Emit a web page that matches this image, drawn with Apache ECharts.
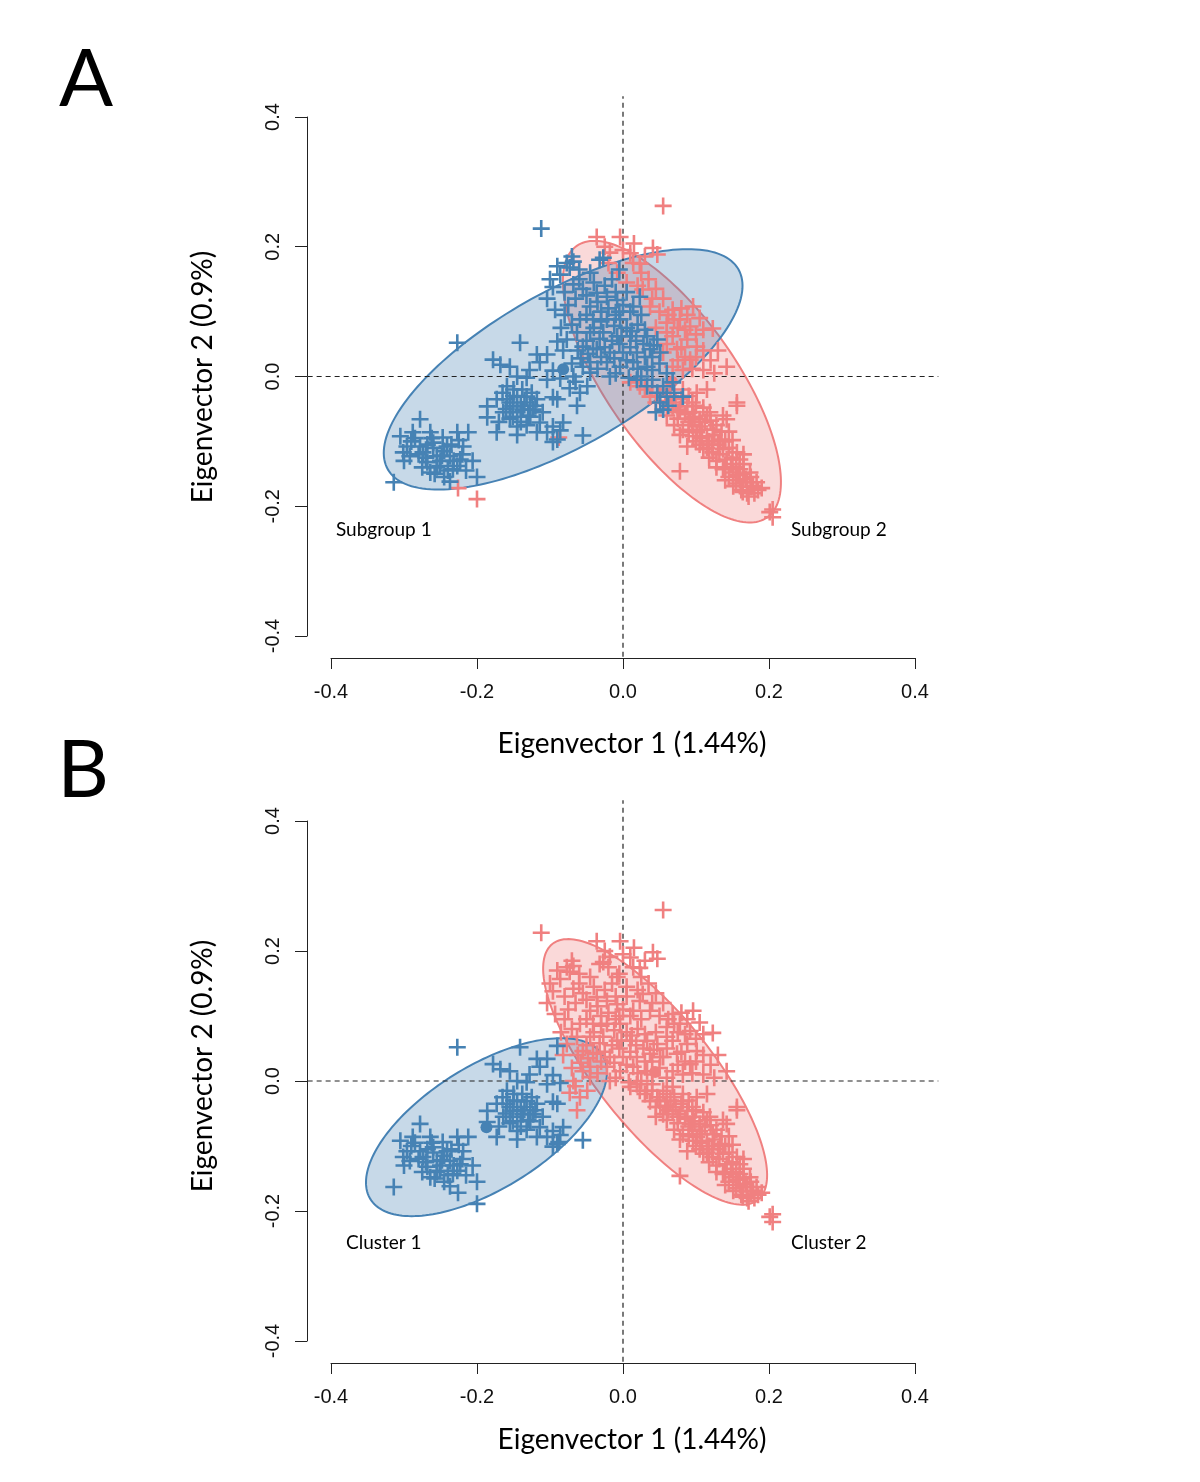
<!DOCTYPE html>
<html><head><meta charset="utf-8">
<script src="https://cdn.jsdelivr.net/npm/echarts/dist/echarts.min.js"></script>
<style>html,body{margin:0;padding:0;background:#fff}#c{width:1200px;height:1482px}</style>
</head><body><div id="c"></div>
<script>
// ---- data (Eigenvector 1, Eigenvector 2) ----
const axisTicks = [-0.4, -0.2, 0.0, 0.2, 0.4];
// left groups: blue in both panels
const farLeftPts = [[-0.278,-0.066],[-0.305,-0.092],[-0.288,-0.086],[-0.264,-0.086],[-0.227,-0.086],[-0.212,-0.086],[-0.296,-0.108],[-0.278,-0.108],[-0.260,-0.102],[-0.241,-0.108],[-0.219,-0.108],[-0.292,-0.123],[-0.274,-0.117],[-0.255,-0.123],[-0.237,-0.123],[-0.223,-0.128],[-0.268,-0.132],[-0.251,-0.138],[-0.233,-0.143],[-0.200,-0.155],[-0.237,-0.162],[-0.264,-0.148],[-0.301,-0.117],[-0.247,-0.094],[-0.227,-0.138],[-0.314,-0.163],[-0.260,-0.110],[-0.245,-0.115],[-0.270,-0.125],[-0.250,-0.130],[-0.235,-0.105],[-0.280,-0.120],[-0.240,-0.145],[-0.255,-0.140],[-0.220,-0.120],[-0.290,-0.100],[-0.206,-0.130],[-0.215,-0.145],[-0.227,0.052],[-0.285,-0.095],[-0.275,-0.140],[-0.262,-0.095],[-0.248,-0.122],[-0.232,-0.130],[-0.268,-0.105],[-0.245,-0.155],[-0.225,-0.098],[-0.300,-0.130],[-0.258,-0.150]];
const midPts = [[-0.178,0.026],[-0.168,0.018],[-0.141,0.052],[-0.118,0.034],[-0.104,0.034],[-0.114,0.022],[-0.090,0.054],[-0.145,0.000],[-0.132,-0.002],[-0.159,-0.015],[-0.186,-0.046],[-0.173,-0.035],[-0.159,-0.035],[-0.145,-0.031],[-0.132,-0.031],[-0.118,-0.035],[-0.151,-0.046],[-0.137,-0.051],[-0.123,-0.051],[-0.164,-0.055],[-0.186,-0.063],[-0.151,-0.062],[-0.127,-0.062],[-0.114,-0.071],[-0.173,-0.086],[-0.145,-0.077],[-0.118,-0.086],[-0.104,-0.086],[-0.096,-0.077],[-0.090,-0.097],[-0.055,-0.091],[-0.090,-0.035],[-0.104,-0.005],[-0.155,-0.040],[-0.140,-0.045],[-0.145,-0.055],[-0.135,-0.040],[-0.160,-0.050],[-0.150,-0.030],[-0.130,-0.060],[-0.140,-0.070],[-0.096,-0.101],[-0.096,0.009],[-0.086,-0.003],[-0.082,-0.071],[-0.086,-0.083],[-0.096,-0.032],[-0.127,-0.045],[-0.165,-0.025],[-0.150,-0.020],[-0.138,-0.020],[-0.125,-0.025],[-0.155,-0.065],[-0.132,-0.075],[-0.120,-0.045],[-0.110,-0.055],[-0.170,-0.070],[-0.145,-0.090],[-0.128,0.010],[-0.155,0.015]];
// central group: blue in A (Subgroup 1), red in B (Cluster 2)
const centralPts = [[-0.112,0.228],[-0.077,0.175],[-0.068,0.177],[-0.073,0.168],[-0.086,0.157],[-0.068,0.142],[-0.096,0.138],[-0.093,0.103],[-0.104,0.120],[-0.027,0.183],[-0.036,0.129],[-0.022,0.123],[-0.008,0.118],[0.023,0.123],[0.014,0.108],[-0.045,0.108],[-0.059,0.088],[-0.041,0.088],[-0.022,0.088],[-0.004,0.088],[-0.063,0.068],[-0.045,0.068],[-0.027,0.068],[-0.008,0.062],[0.010,0.062],[0.033,0.062],[0.047,0.057],[-0.055,0.046],[-0.036,0.042],[-0.018,0.037],[0.000,0.037],[0.019,0.037],[0.037,0.042],[0.051,0.037],[-0.022,0.022],[-0.004,0.015],[0.014,0.022],[0.033,0.015],[-0.055,0.015],[-0.068,0.000],[-0.045,0.006],[-0.018,0.000],[0.019,-0.005],[0.033,-0.015],[0.047,-0.025],[0.060,-0.031],[0.051,-0.040],[0.082,-0.031],[0.055,-0.051],[0.068,-0.009],[-0.059,-0.025],[-0.049,-0.015],[-0.030,0.100],[-0.010,0.095],[0.005,0.075],[-0.015,0.055],[0.000,0.110],[-0.040,0.075],[0.020,0.080],[0.010,0.045],[-0.025,0.045],[0.030,0.030],[0.040,0.010],[0.025,0.000],[-0.077,0.057],[-0.063,-0.045],[-0.073,-0.018],[-0.045,0.022],[-0.082,0.040],[-0.041,0.043],[-0.032,0.180],[-0.060,0.150],[-0.050,0.125],[-0.075,0.110],[-0.080,0.130],[-0.015,0.150],[0.005,0.130],[-0.005,0.165],[-0.035,0.115],[-0.020,0.105],[-0.005,0.100],[0.010,0.100],[0.025,0.095],[-0.050,0.095],[-0.030,0.085],[-0.012,0.078],[0.012,0.070],[0.030,0.072],[0.042,0.048],[0.028,0.050],[-0.005,0.050],[-0.032,0.058],[-0.050,0.055],[-0.062,0.040],[-0.030,0.030],[-0.012,0.028],[0.005,0.025],[0.020,0.012],[-0.035,0.012],[-0.058,0.028],[-0.010,0.005],[0.008,-0.002],[0.040,-0.005],[0.055,-0.015],[0.062,-0.045],[0.070,-0.025],[0.045,-0.055],[-0.070,0.080],[-0.080,0.095],[-0.065,0.120],[-0.055,0.135],[-0.040,0.145],[-0.025,0.140],[-0.010,0.130],[-0.085,0.075],[-0.090,0.170],[-0.060,0.165],[-0.045,0.160],[-0.070,0.185],[-0.100,0.150],[0.040,0.030],[0.050,0.020],[0.060,0.005],[-0.002,0.062],[0.018,0.055],[-0.048,0.035],[-0.070,0.020],[-0.065,-0.008]];
// right groups: red in both panels
const topRedPts = [[0.055,0.263],[-0.036,0.215],[-0.004,0.215],[-0.018,0.191],[0.041,0.198],[0.047,0.188],[0.014,0.175],[-0.008,0.160],[0.005,0.145],[0.027,0.134],[0.037,0.108],[0.068,0.103],[0.096,0.108],[0.078,0.088],[0.060,0.083],[0.092,0.077],[0.110,0.072],[0.068,0.062],[0.088,0.057],[0.074,0.042],[0.101,0.046],[0.055,0.037],[0.092,0.026],[0.142,0.015],[0.068,0.015],[0.023,0.174],[0.123,0.074],[0.010,0.190],[0.025,0.160],[0.035,0.150],[0.045,0.135],[0.055,0.120],[0.050,0.100],[0.062,0.095],[0.080,0.105],[0.085,0.072],[0.100,0.065],[0.075,0.075],[0.060,0.050],[0.080,0.045],[0.085,0.030],[0.100,0.030],[0.110,0.040],[0.120,0.025],[0.075,0.025],[0.082,0.010],[0.095,0.012],[0.110,0.010],[0.125,0.005],[0.060,0.068],[0.070,0.088],[0.040,0.120],[0.020,0.140],[-0.020,0.175],[0.030,0.185],[0.015,0.205],[0.000,0.195],[-0.025,0.200],[0.105,0.090],[0.088,0.095],[0.130,0.040],[0.045,0.075]];
const diagPts = [[0.082,-0.020],[0.101,-0.025],[0.115,-0.020],[0.156,-0.040],[0.142,-0.066],[0.078,-0.051],[0.092,-0.066],[0.105,-0.066],[0.119,-0.055],[0.082,-0.082],[0.101,-0.086],[0.115,-0.092],[0.133,-0.097],[0.110,-0.112],[0.123,-0.117],[0.142,-0.128],[0.160,-0.128],[0.151,-0.148],[0.170,-0.163],[0.178,-0.169],[0.164,-0.178],[0.078,-0.146],[0.205,-0.205],[0.205,-0.217],[0.201,-0.209],[0.068,-0.046],[0.088,-0.046],[0.096,-0.055],[0.105,-0.077],[0.123,-0.082],[0.137,-0.112],[0.156,-0.117],[0.160,-0.143],[0.174,-0.148],[0.183,-0.163],[0.137,-0.143],[0.151,-0.169],[0.096,-0.092],[0.088,-0.108],[0.137,-0.060],[0.156,-0.045],[0.023,-0.015],[0.037,-0.031],[0.010,-0.009],[0.045,-0.040],[0.060,-0.060],[0.070,-0.075],[0.128,-0.130],[0.145,-0.155],[0.165,-0.150],[0.118,-0.100],[0.108,-0.095],[0.095,-0.075],[0.075,-0.065],[0.130,-0.105],[0.148,-0.135],[0.170,-0.180],[0.185,-0.175],[0.160,-0.160],[0.115,-0.110],[0.030,-0.020],[0.040,-0.015],[0.050,-0.030],[0.058,-0.038],[0.065,-0.030],[0.072,-0.040],[0.080,-0.035],[0.090,-0.030],[0.095,-0.040],[0.085,-0.058],[0.098,-0.062],[0.110,-0.048],[0.112,-0.070],[0.120,-0.068],[0.128,-0.075],[0.108,-0.082],[0.125,-0.090],[0.135,-0.085],[0.140,-0.100],[0.145,-0.110],[0.122,-0.105],[0.132,-0.120],[0.150,-0.125],[0.140,-0.140],[0.155,-0.140],[0.165,-0.135],[0.158,-0.152],[0.168,-0.158],[0.175,-0.170],[0.180,-0.180],[0.190,-0.172],[0.155,-0.165],[0.162,-0.175],[0.172,-0.185],[0.100,-0.100],[0.090,-0.085],[0.078,-0.090],[0.145,-0.085],[0.150,-0.098],[0.128,-0.140],[0.118,-0.125],[0.105,-0.105],[0.060,-0.020],[0.075,-0.055],[0.090,-0.070],[0.140,-0.160],[0.175,-0.155],[0.165,-0.120],[0.115,-0.060],[0.100,-0.045]];
// red in A (Subgroup 2), blue in B (Cluster 1)
const switchPts = [[-0.226,-0.172],[-0.200,-0.189],[-0.088,-0.094]];
// ellipses: [centerX, centerY, axis1X, axis1Y, axis2X, axis2Y]
const ellA_sub1 = [-0.082, 0.011, 0.2401, 0.1542, 0.0523, -0.1028];
const ellA_sub2 = [0.067, -0.008, 0.1303, -0.2094, -0.0730, -0.0572];
const ellB_cl1 = [-0.187, -0.071, 0.1590, 0.1108, 0.0444, -0.0804];
const ellB_cl2 = [0.044, 0.014, 0.1408, -0.1968, -0.0609, -0.0549];
const centroidsA = [[-0.082, 0.011], [0.067, -0.008]];
const centroidsB = [[-0.187, -0.071], [0.044, 0.014]];
const groupLabelsA = ['Subgroup 1', 'Subgroup 2'];
const groupLabelsB = ['Cluster 1', 'Cluster 2'];
const xTitle = 'Eigenvector 1 (1.44%)';
const yTitle = 'Eigenvector 2 (0.9%)';

// ---- styling ----
const BLUE = '#4682B4', RED = '#F08080';
const BLUE_FILL = 'rgba(70,130,180,0.3)', RED_FILL = 'rgba(240,128,128,0.3)';
const PLUS = 'path://M-1.3,-8.5H1.3V-1.3H8.5V1.3H1.3V8.5H-1.3V1.3H-8.5V-1.3H-1.3Z';
const TFONT = 'Lato, "Open Sans", sans-serif';
const LFONT = '"Liberation Sans", Arial, sans-serif';

const blueA = farLeftPts.concat(midPts, centralPts);
const redA = topRedPts.concat(diagPts, switchPts);
const blueB = farLeftPts.concat(midPts, switchPts);
const redB = centralPts.concat(topRedPts, diagPts);

function pts(idx, data, color) {
  return {type:'scatter', xAxisIndex:idx, yAxisIndex:idx, data:data, symbol:PLUS, symbolSize:17,
    itemStyle:{color:color, opacity:1}, silent:true, animation:false};
}
function dot(idx, c, color) {
  return {type:'scatter', xAxisIndex:idx, yAxisIndex:idx, data:[c], symbol:'circle', symbolSize:12,
    itemStyle:{color:color, opacity:1}, silent:true, animation:false};
}
function ell(idx, e, stroke, fill) {
  return {type:'custom', xAxisIndex:idx, yAxisIndex:idx, clip:false, silent:true, animation:false,
    data:[e],
    renderItem(params, api) {
      const v = [0,1,2,3,4,5].map(i => api.value(i));
      const p = [];
      for (let i = 0; i < 180; i++) {
        const t = i / 180 * 2 * Math.PI;
        p.push(api.coord([v[0] + Math.cos(t)*v[2] + Math.sin(t)*v[4], v[1] + Math.cos(t)*v[3] + Math.sin(t)*v[5]]));
      }
      return {type:'polygon', shape:{points:p}, style:{fill:fill, stroke:stroke, lineWidth:2}};
    }};
}
function cross(idx) {
  const lim = 0.4 * 1.08;
  return {type:'custom', xAxisIndex:idx, yAxisIndex:idx, clip:false, silent:true, animation:false,
    data:[[0, 0]],
    renderItem(params, api) {
      const x0 = api.value(0), y0 = api.value(1);
      const st = {stroke:'#222', lineWidth:1.2, lineDash:[5,4], fill:null};
      const h1 = api.coord([-lim, y0]), h2 = api.coord([lim, y0]);
      const v1 = api.coord([x0, -lim]), v2 = api.coord([x0, lim]);
      return {type:'group', children:[
        {type:'line', shape:{x1:h1[0], y1:h1[1], x2:h2[0], y2:h2[1]}, style:st},
        {type:'line', shape:{x1:v1[0], y1:v1[1], x2:v2[0], y2:v2[1]}, style:st}
      ]};
    }};
}
function xAx(idx) {
  return {gridIndex:idx, type:'value', min:axisTicks[0], max:axisTicks[axisTicks.length-1], interval:0.2,
    offset:22, position:'bottom',
    axisLine:{show:true, onZero:false, lineStyle:{color:'#222', width:1}},
    axisTick:{show:true, inside:false, length:11, lineStyle:{color:'#222', width:1}},
    axisLabel:{margin:24, fontSize:20, color:'#111', fontFamily:LFONT, formatter:v => v.toFixed(1)},
    splitLine:{show:false}};
}
function yAx(idx) {
  return {gridIndex:idx, type:'value', min:axisTicks[0], max:axisTicks[axisTicks.length-1], interval:0.2,
    offset:24, position:'left',
    axisLine:{show:true, onZero:false, lineStyle:{color:'#222', width:1}},
    axisTick:{show:true, inside:false, length:12, lineStyle:{color:'#222', width:1}},
    axisLabel:{margin:24, fontSize:20, color:'#111', fontFamily:LFONT, rotate:90, formatter:v => v.toFixed(1)},
    splitLine:{show:false}};
}
function txt(x, y, s, size, opts, align) {
  return Object.assign({type:'text', x:x, y:y, silent:true,
    style:{text:s, font:size + 'px ' + TFONT, fill:'#000', textAlign:align || 'center', textVerticalAlign:'middle', verticalAlign:'middle'}}, opts || {});
}

const chart = echarts.init(document.getElementById('c'), null, {renderer:'canvas'});
chart.setOption({
  animation:false,
  backgroundColor:'#fff',
  grid:[
    {left:331, top:117, width:584, height:519, containLabel:false, outerBoundsMode:'none'},
    {left:331, top:821, width:584, height:520, containLabel:false, outerBoundsMode:'none'}
  ],
  xAxis:[xAx(0), xAx(1)],
  yAxis:[yAx(0), yAx(1)],
  series:[
    dot(0, centroidsA[1], RED), pts(0, redA, RED), ell(0, ellA_sub2, RED, RED_FILL),
    dot(0, centroidsA[0], BLUE), pts(0, blueA, BLUE), ell(0, ellA_sub1, BLUE, BLUE_FILL),
    cross(0),
    dot(1, centroidsB[1], RED), pts(1, redB, RED), ell(1, ellB_cl2, RED, RED_FILL),
    dot(1, centroidsB[0], BLUE), pts(1, blueB, BLUE), ell(1, ellB_cl1, BLUE, BLUE_FILL),
    cross(1)
  ],
  graphic:[
    txt(86, 80, 'A', 80),
    txt(83, 771, 'B', 80),
    txt(632, 744, xTitle, 28),
    txt(632, 1440, xTitle, 28),
    txt(203, 377, yTitle, 28, {rotation:Math.PI/2}),
    txt(203, 1066, yTitle, 28, {rotation:Math.PI/2}),
    txt(336, 530, groupLabelsA[0], 19, null, 'left'),
    txt(791, 530, groupLabelsA[1], 19, null, 'left'),
    txt(346, 1243, groupLabelsB[0], 19, null, 'left'),
    txt(791, 1243, groupLabelsB[1], 19, null, 'left')
  ]
});
</script></body></html>
